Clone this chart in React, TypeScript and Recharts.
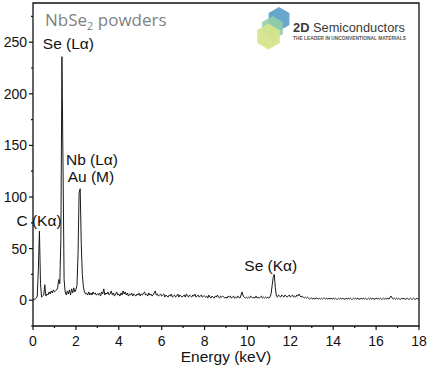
import React from 'react';
import { LineChart, Line, XAxis, YAxis, ReferenceArea, ReferenceDot } from 'recharts';

// EDS spectrum, one channel every 0.05 keV
const STEP_KEV = 0.05;

// 0.00 - 2.95 keV
const countsLow = [
  0, 1, 1, 2, 4, 30, 67, 16, 3, 4, 5, 15, 4, 6, 5, 8, 6, 9, 7, 10,
  8, 9, 10, 12, 20, 16, 60, 236, 130, 20, 8, 5, 9, 6, 10, 5, 11, 7, 12, 8,
  10, 14, 45, 104, 108, 55, 25, 13, 8, 6, 7, 5, 8, 5, 7, 5, 8, 6, 7, 5,
];

// 3.00 - 10.95 keV
const countsMid = [
  6, 5, 7, 4, 8, 6, 11, 5, 7, 6, 8, 5, 6, 9, 5, 7, 4, 6, 8, 5,
  6, 4, 7, 5, 9, 6, 8, 5, 7, 4, 6, 5, 7, 4, 6, 5, 4, 6, 5, 7,
  4, 6, 5, 7, 8, 5, 6, 4, 7, 5, 6, 4, 5, 7, 9, 5, 6, 4, 5, 6,
  4, 5, 6, 3, 5, 4, 3, 5, 4, 6, 3, 4, 5, 3, 4, 6, 3, 5, 4, 3,
  4, 5, 3, 6, 4, 3, 5, 4, 3, 5, 4, 6, 3, 4, 5, 3, 4, 5, 3, 4,
  4, 3, 4, 2, 5, 3, 2, 4, 3, 2, 4, 3, 5, 3, 2, 4, 3, 4, 3, 2,
  3, 2, 4, 3, 4, 2, 3, 4, 2, 3, 2, 4, 3, 2, 5, 8, 4, 3, 2, 3,
  2, 3, 2, 4, 3, 2, 3, 2, 4, 2, 3, 2, 3, 4, 2, 3, 2, 3, 2, 3,
];

// 11.00 - 18.00 keV
const countsHigh = [
  2, 3, 6, 14, 22, 25, 12, 4, 3, 5, 4, 3, 5, 4, 3, 5, 4, 3, 4, 5,
  3, 4, 5, 3, 4, 3, 5, 4, 6, 4, 3, 4, 3, 2, 3, 2, 3, 2, 1, 2,
  2, 1, 2, 1, 2, 2, 1, 2, 1, 2, 1, 2, 2, 1, 2, 1, 2, 1, 2, 1,
  2, 1, 2, 1, 1, 2, 1, 2, 1, 2, 1, 1, 2, 1, 2, 1, 2, 1, 1, 2,
  1, 2, 1, 2, 1, 1, 2, 1, 2, 1, 2, 1, 1, 2, 1, 2, 1, 2, 1, 1,
  2, 1, 2, 1, 2, 1, 1, 2, 1, 2, 1, 2, 1, 3, 4, 2, 1, 2, 1, 2,
  1, 2, 1, 1, 2, 1, 2, 1, 1, 2, 1, 1, 2, 1, 1, 2, 1, 1, 2, 1,
  1,
];

const xTicks = [0, 1, 2, 3, 4, 5, 6, 7, 8, 9, 10, 11, 12, 13, 14, 15, 16, 17, 18];
const yTicks = [-25, 0, 25, 50, 75, 100, 125, 150, 175, 200, 225, 250, 275];

const peakNames = ['Se (Lα)', 'Nb (Lα)', 'Au (M)', 'C (Kα)', 'Se (Kα)'];

const spectrum = [...countsLow, ...countsMid, ...countsHigh].map((counts, i) => ({
  energy: +(i * STEP_KEV).toFixed(2),
  counts,
}));

// where each peak name sits (energy, counts at text baseline)
const labelAnchors = [
  [1.65, 243],
  [2.75, 131],
  [2.7, 114.5],
  [0.28, 71.5],
  [11.09, 28.5],
];

const FONT = '"Liberation Sans", Arial, sans-serif';
const INK = '#111';

const YTick = (props: any) => {
  const { x, y, payload } = props;
  const major = payload.value % 50 === 0;
  return (
    <g>
      <line x1={x - (major ? 4 : 2)} x2={x} y1={y} y2={y} stroke={INK} strokeWidth={1.2} />
      {major && (
        <text x={x - 6} y={y + 5} textAnchor="end" fontSize={14} fontFamily={FONT} fill={INK}>
          {payload.value}
        </text>
      )}
    </g>
  );
};

const XTick = (props: any) => {
  const { x, y, payload } = props;
  const major = payload.value % 2 === 0;
  return (
    <g>
      <line x1={x} x2={x} y1={y} y2={y + (major ? 4 : 2)} stroke={INK} strokeWidth={1.2} />
      {major && (
        <text x={x} y={y + 20} textAnchor="middle" fontSize={14} fontFamily={FONT} fill={INK}>
          {payload.value}
        </text>
      )}
    </g>
  );
};

const hex = (cx: number, cy: number, r: number) =>
  [0, 1, 2, 3, 4, 5]
    .map(k => {
      const a = (Math.PI / 180) * (60 * k - 90);
      return `${cx + r * Math.cos(a)},${cy + r * Math.sin(a)}`;
    })
    .join(' ');

export default function App() {
  return (
    <div style={{ position: 'absolute', left: 0, top: 0, width: 430, height: 372, background: '#fff' }}>
      <LineChart width={430} height={372} data={spectrum} margin={{ top: 3, right: 11, bottom: 0, left: 0 }}>
        <XAxis
          dataKey="energy"
          type="number"
          domain={[0, 18]}
          ticks={xTicks}
          interval={0}
          allowDataOverflow
          tick={<XTick />}
          tickLine={false}
          axisLine={false}
          tickSize={0}
          tickMargin={0}
          height={46}
          label={{
            value: 'Energy (keV)',
            position: 'insideBottom',
            offset: 10.5,
            style: { fontSize: 15.5, fontFamily: FONT, fill: INK },
          }}
        />
        <YAxis
          type="number"
          domain={[-25, 288]}
          ticks={yTicks}
          interval={0}
          allowDataOverflow
          tick={<YTick />}
          tickLine={false}
          axisLine={false}
          tickSize={0}
          tickMargin={0}
          width={33}
        />
        <ReferenceArea x1={0} x2={18} y1={-25} y2={288} fill="none" fillOpacity={0} stroke={INK} strokeWidth={1.3} />
        <Line
          dataKey="counts"
          stroke="#1a1a1a"
          strokeWidth={1}
          dot={false}
          isAnimationActive={false}
        />
        {peakNames.map((name, i) => (
          <ReferenceDot
            key={name}
            x={labelAnchors[i][0]}
            y={labelAnchors[i][1]}
            r={1}
            shape={(s: any) => (
              <text x={s.cx} y={s.cy} textAnchor="middle" fontSize={15.5} fontFamily={FONT} fill={INK}>
                {name}
              </text>
            )}
          />
        ))}
      </LineChart>

      <svg width={430} height={372} style={{ position: 'absolute', left: 0, top: 0, pointerEvents: 'none' }}>
        <text x={45} y={26} fontFamily='"Open Sans", sans-serif' fontSize={17} fill="#7f7f7f">
          NbSe
          <tspan fontSize={11} dy={4}>2</tspan>
          <tspan dy={-4}> powders</tspan>
        </text>
        <polygon points={hex(279, 19, 12)} fill="#5a9fc9" opacity={0.92} />
        <polygon points={hex(272.5, 28, 12)} fill="#93cda9" opacity={0.9} />
        <polygon points={hex(268.5, 36.5, 13)} fill="#d5e48e" opacity={0.95} />
        <text x={293} y={32} fontFamily={FONT} fontSize={13} fill="#3a3a3a" textLength={112} lengthAdjust="spacingAndGlyphs">
          <tspan fontWeight="bold">2D</tspan> Semiconductors
        </text>
        <text x={293} y={40} fontFamily={FONT} fontSize={4.6} fontWeight="bold" fill="#555" textLength={113} lengthAdjust="spacingAndGlyphs">
          THE LEADER IN UNCONVENTIONAL MATERIALS
        </text>
      </svg>
    </div>
  );
}
